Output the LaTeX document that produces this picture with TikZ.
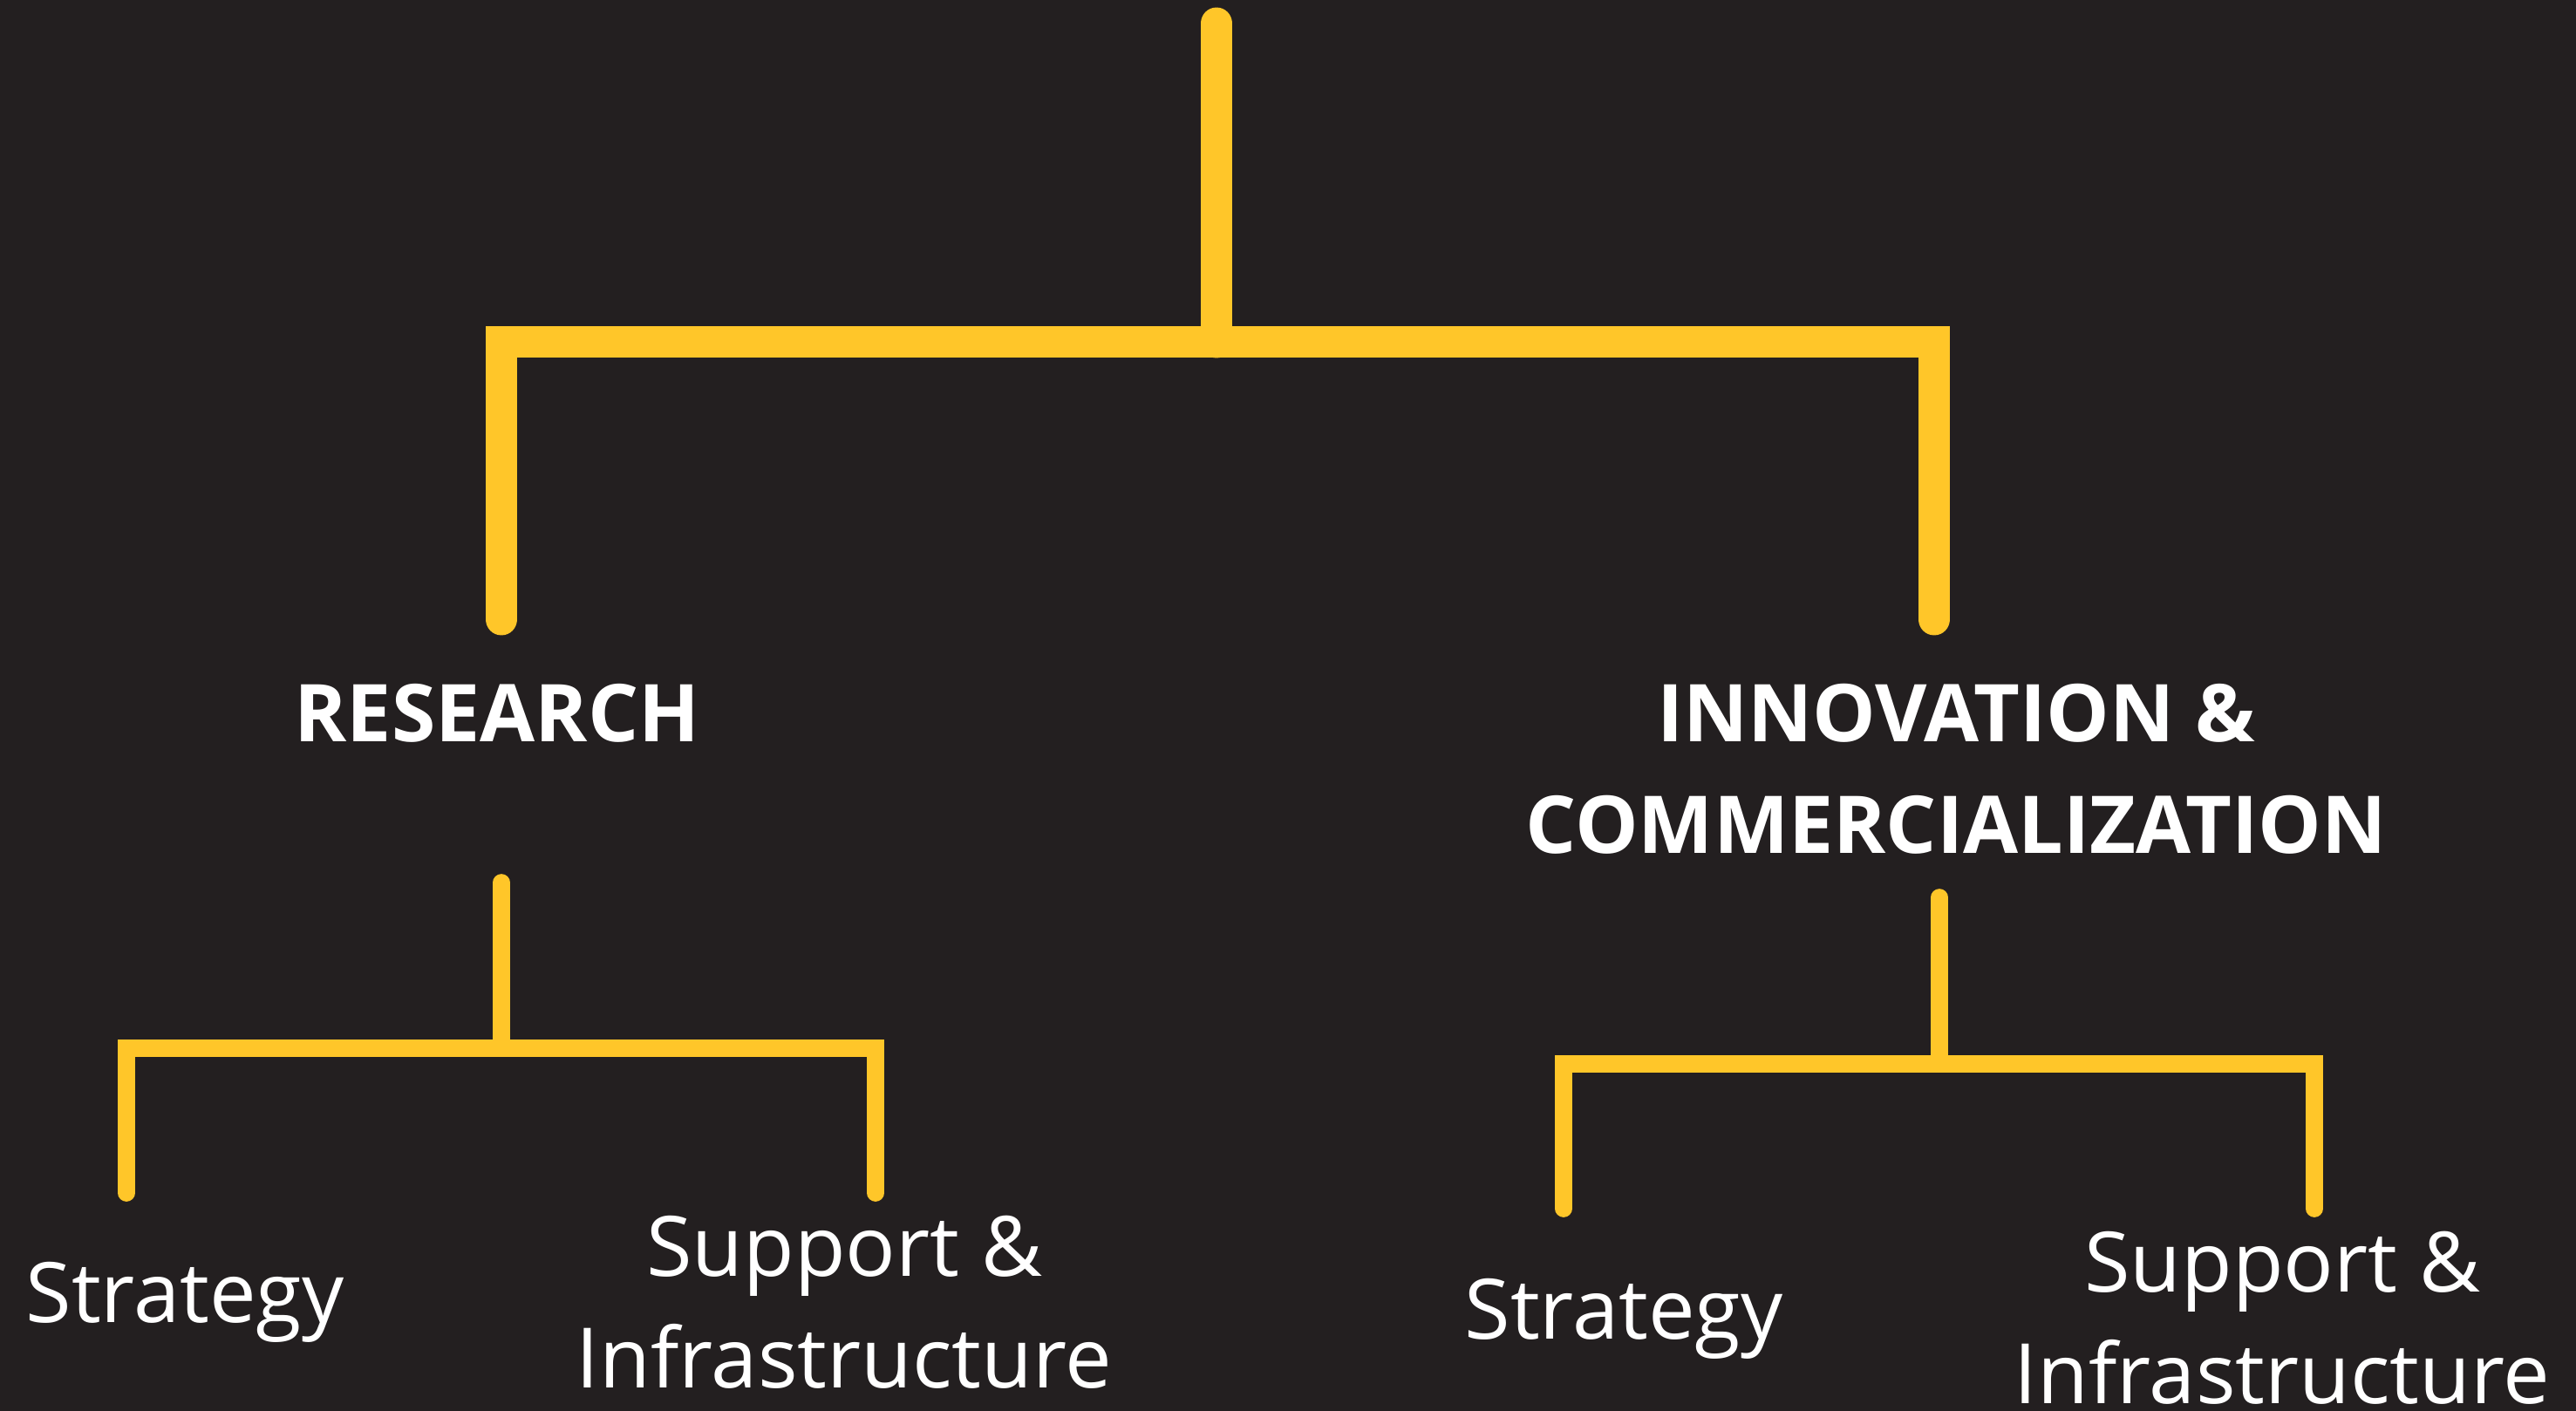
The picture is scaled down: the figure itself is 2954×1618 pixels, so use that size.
\documentclass[tikz,border=0pt]{standalone}
\usepackage{fontspec}
\setmainfont{Open Sans}
\newfontfamily\headfont{Open Sans}[BoldFont={Open Sans Bold}]
\definecolor{bgdark}{HTML}{231F20}
\definecolor{gold}{HTML}{FFC629}
\begin{document}
\begin{tikzpicture}[x=0.01cm,y=-0.01cm,
  bigline/.style={draw=gold,line width=10.5pt,line cap=round,line join=miter},
  smallline/.style={draw=gold,line width=5.6pt,line cap=round,line join=miter},
  headtext/.style={text=white,font=\headfont\bfseries\fontsize{26pt}{36.4pt}\selectfont,align=center,inner sep=0pt,anchor=base},
  leaftext/.style={text=white,font=\fontsize{27.2pt}{36.4pt}\selectfont,align=center,inner sep=0pt,anchor=base}]
\fill[bgdark] (0,0) rectangle (2954,1618);
\useasboundingbox (0,0) rectangle (2954,1618);
% top level
\coordinate (rootTop) at (1395,27);
\coordinate (rootMid) at (1395,392);
\coordinate (brL) at (575,710);
\coordinate (brR) at (2218,710);
\draw[bigline] (rootTop) -- (rootMid);
\draw[bigline] (brL) |- (rootMid) -| (brR);
% headings
\node[headtext] (research) at (570,850) {RESEARCH};
\node[headtext] (innov) at (2243,978) {INNOVATION \&\\COMMERCIALIZATION};
% left sub-bracket
\coordinate (lTop) at (575,1012);
\coordinate (lMid) at (575,1202);
\coordinate (lL) at (145,1368);
\coordinate (lR) at (1004,1368);
\draw[smallline] (lTop) -- (lMid);
\draw[smallline] (lL) |- (lMid) -| (lR);
% right sub-bracket
\coordinate (rTop) at (2224,1029);
\coordinate (rMid) at (2224,1220);
\coordinate (rL) at (1793,1386);
\coordinate (rR) at (2654,1386);
\draw[smallline] (rTop) -- (rMid);
\draw[smallline] (rL) |- (rMid) -| (rR);
% leaves
\node[leaftext] (strat1) at (212,1516) {Strategy};
\node[leaftext] (supp1) at (968,1591) {Support \&\\Infrastructure};
\node[leaftext] (strat2) at (1862,1535) {Strategy};
\node[leaftext] (supp2) at (2617,1609) {Support \&\\Infrastructure};
\end{tikzpicture}
\end{document}
